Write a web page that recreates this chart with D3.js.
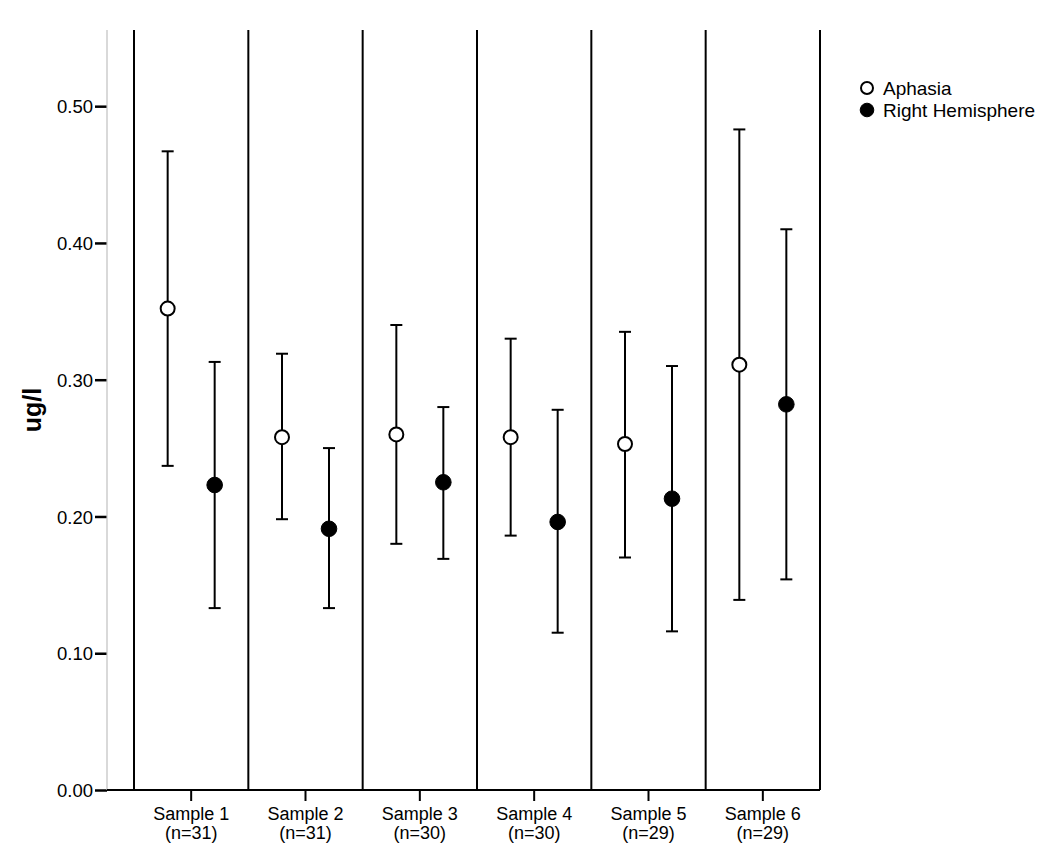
<!DOCTYPE html>
<html>
<head>
    <meta charset="utf-8">
    <title>ug/l by sample</title>
    <script src="https://d3js.org/d3.v7.min.js"></script>
    <style>
        body { margin: 0; background: #fff; }
        text { font-family: "Liberation Sans", Arial, sans-serif; }
    </style>
</head>
<body>
    <script>
        // data
        var samples = ["Sample 1", "Sample 2", "Sample 3", "Sample 4", "Sample 5", "Sample 6"];
        var sampleN = ["(n=31)", "(n=31)", "(n=30)", "(n=30)", "(n=29)", "(n=29)"];
        var seriesNames = ["Aphasia", "Right Hemisphere"];
        var aphasiaMean = [0.352, 0.258, 0.260, 0.258, 0.253, 0.311];
        var aphasiaLow  = [0.237, 0.198, 0.180, 0.186, 0.170, 0.139];
        var aphasiaHigh = [0.467, 0.319, 0.340, 0.330, 0.335, 0.483];
        var rightMean = [0.223, 0.191, 0.225, 0.196, 0.213, 0.282];
        var rightLow  = [0.133, 0.133, 0.169, 0.115, 0.116, 0.154];
        var rightHigh = [0.313, 0.250, 0.280, 0.278, 0.310, 0.410];
        var yTicks = [0, 0.1, 0.2, 0.3, 0.4, 0.5];

        var width = 1050, height = 865;
        var margin = { top: 30, bottom: 75, left: 107, right: 230 };

        var svg = d3.select("body").append("svg").attr("width", width).attr("height", height);

        // rows for drawing
        var rows = [];
        samples.forEach(function (s, i) {
            rows.push({ sample: s, series: seriesNames[0], mean: aphasiaMean[i], low: aphasiaLow[i], high: aphasiaHigh[i] });
            rows.push({ sample: s, series: seriesNames[1], mean: rightMean[i], low: rightLow[i], high: rightHigh[i] });
        });

        var yScale = d3.scaleLinear().domain([0, 0.5557]).range([height - margin.bottom, margin.top]);
        var xScale = d3.scaleBand().domain(samples).range([134, 820]).padding(0);
        var offset = d3.scalePoint().domain(seriesNames).range([-23.5, 23.5]);

        function cx(d) { return xScale(d.sample) + xScale.bandwidth() / 2 + offset(d.series); }

        // separators between samples
        var edges = samples.map(function (s) { return xScale(s); }).concat([xScale.range()[1]]);
        svg.append("g").selectAll("line").data(edges).enter().append("line")
            .attr("x1", function (d) { return d; }).attr("x2", function (d) { return d; })
            .attr("y1", margin.top).attr("y2", yScale(0))
            .attr("stroke", "#000").attr("stroke-width", 2);

        // y axis
        var axisy = d3.axisLeft(yScale).tickValues(yTicks).tickFormat(d3.format(".2f")).tickSize(12).tickPadding(2);
        var gy = svg.append("g").attr("transform", "translate(" + margin.left + ",0)").call(axisy);
        gy.attr("font-size", null).attr("font-family", null);
        gy.select(".domain").remove();
        gy.selectAll(".tick line").attr("stroke", "#000").attr("stroke-width", 2.5);
        gy.selectAll(".tick text").style("font-size", "18.5px").attr("fill", "#000").attr("dy", "0.36em");
        svg.append("line").attr("x1", margin.left).attr("x2", margin.left)
            .attr("y1", margin.top).attr("y2", yScale(0))
            .attr("stroke", "#c0c0c0").attr("stroke-width", 1.2);

        svg.append("text")
            .attr("transform", "translate(41," + ((margin.top + yScale(0)) / 2) + ") rotate(-90)")
            .attr("text-anchor", "middle")
            .style("font-size", "25px").attr("font-weight", "bold")
            .text("ug/l");

        // x axis
        var axisx = d3.axisBottom(xScale).tickSize(11).tickFormat("");
        var gx = svg.append("g").attr("transform", "translate(0," + yScale(0) + ")").call(axisx);
        gx.select(".domain").remove();
        gx.selectAll(".tick line").attr("stroke", "#000").attr("stroke-width", 2);
        svg.append("line").attr("x1", margin.left).attr("x2", 820)
            .attr("y1", yScale(0)).attr("y2", yScale(0))
            .attr("stroke", "#000").attr("stroke-width", 2);
        var labels = svg.append("g").selectAll("text").data(samples).enter().append("text")
            .attr("x", function (d) { return xScale(d) + xScale.bandwidth() / 2; })
            .attr("y", yScale(0) + 30)
            .attr("text-anchor", "middle")
            .style("font-size", "18px");
        labels.append("tspan").text(function (d) { return d; });
        labels.append("tspan")
            .attr("x", function (d) { return xScale(d) + xScale.bandwidth() / 2; })
            .attr("dy", 19)
            .text(function (d, i) { return sampleN[i]; });

        // error bars
        var bars = svg.append("g").selectAll("g").data(rows).enter().append("g")
            .attr("stroke", "#000").attr("stroke-width", 2);
        bars.append("line")
            .attr("x1", cx).attr("x2", cx)
            .attr("y1", function (d) { return yScale(d.low); })
            .attr("y2", function (d) { return yScale(d.high); });
        [function (d) { return yScale(d.low); }, function (d) { return yScale(d.high); }].forEach(function (fy) {
            bars.append("line")
                .attr("x1", function (d) { return cx(d) - 6; })
                .attr("x2", function (d) { return cx(d) + 6; })
                .attr("y1", fy).attr("y2", fy);
        });
        bars.append("circle")
            .attr("cx", cx)
            .attr("cy", function (d) { return yScale(d.mean); })
            .attr("r", function (d) { return d.series === seriesNames[0] ? 7 : 7.8; })
            .attr("fill", function (d) { return d.series === seriesNames[0] ? "#fff" : "#000"; })
            .attr("stroke-width", function (d) { return d.series === seriesNames[0] ? 2 : 1; });

        // legend
        var legend = svg.append("g").selectAll("g").data(seriesNames).enter().append("g")
            .attr("transform", function (d, i) { return "translate(867," + (88 + i * 22) + ")"; });
        legend.append("circle")
            .attr("r", function (d, i) { return i === 0 ? 6 : 6.8; })
            .attr("fill", function (d, i) { return i === 0 ? "#fff" : "#000"; })
            .attr("stroke", "#000").attr("stroke-width", function (d, i) { return i === 0 ? 2 : 1; });
        legend.append("text")
            .attr("x", 16).attr("y", 6.5)
            .style("font-size", "19px")
            .text(function (d) { return d; });
    </script>
</body>
</html>
